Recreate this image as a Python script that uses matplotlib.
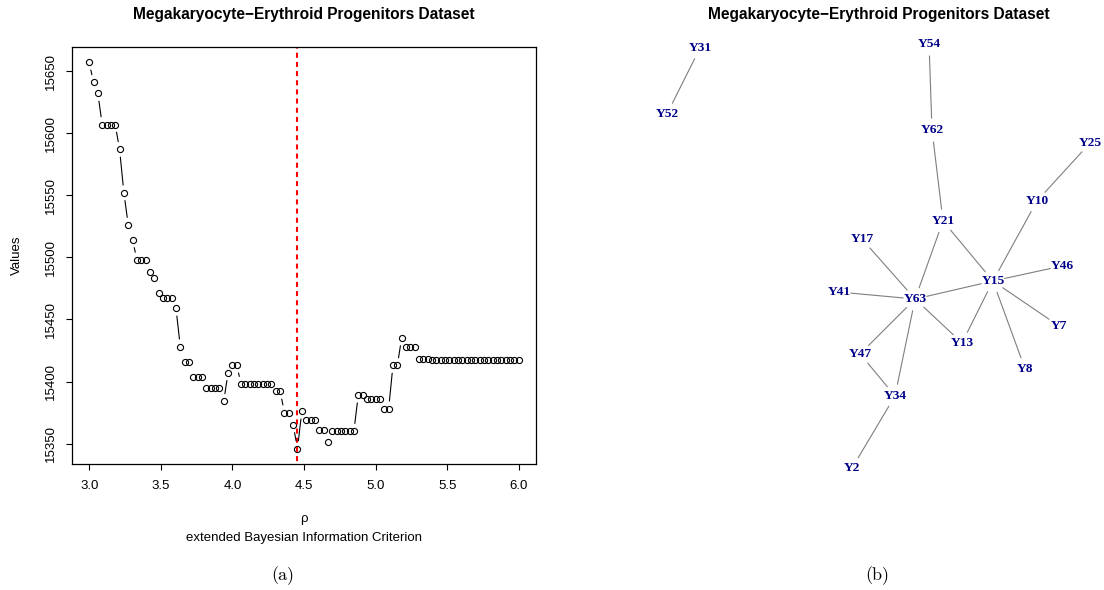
import numpy as np
import matplotlib
matplotlib.use("Agg")
import matplotlib.pyplot as plt

# ---------------- data: panel (a) ----------------
rho = np.linspace(3.0, 6.0, 100)
ebic = [15657, 15641, 15632, 15607, 15607, 15607, 15607, 15587, 15552, 15526,
        15514, 15498, 15498, 15498, 15488, 15483, 15471, 15467, 15467, 15467,
        15459, 15428, 15416, 15416, 15404, 15404, 15404, 15395, 15395, 15395,
        15395, 15384, 15407, 15413, 15413, 15398, 15398, 15398, 15398, 15398,
        15398, 15398, 15398, 15392, 15392, 15375, 15375, 15365, 15346, 15376,
        15369, 15369, 15369, 15361, 15361, 15351, 15360, 15360, 15360, 15360,
        15360, 15360, 15389, 15389, 15386, 15386, 15386, 15386, 15378, 15378,
        15413, 15413, 15435, 15428, 15428, 15428, 15418, 15418, 15418, 15417,
        15417, 15417, 15417, 15417, 15417, 15417, 15417, 15417, 15417, 15417,
        15417, 15417, 15417, 15417, 15417, 15417, 15417, 15417, 15417, 15417]
x_ticks = [3.0, 3.5, 4.0, 4.5, 5.0, 5.5, 6.0]
x_tick_labels = ["3.0", "3.5", "4.0", "4.5", "5.0", "5.5", "6.0"]
y_ticks = [15350, 15400, 15450, 15500, 15550, 15600, 15650]
y_tick_labels = ["15350", "15400", "15450", "15500", "15550", "15600", "15650"]

# ---------------- data: panel (b) ----------------
nodes = ["Y31", "Y52", "Y54", "Y62", "Y25", "Y10", "Y21", "Y17", "Y46",
         "Y15", "Y41", "Y63", "Y7", "Y13", "Y8", "Y47", "Y34", "Y2"]
node_x = [-0.844, -1.000, 0.239, 0.253, 1.000, 0.749, 0.305, -0.078, 0.868,
          0.541, -0.187, 0.173, 0.853, 0.395, 0.693, -0.087, 0.078, -0.125]
node_y = [0.981, 0.670, 1.000, 0.594, 0.533, 0.259, 0.165, 0.080, -0.047,
          -0.118, -0.170, -0.203, -0.330, -0.410, -0.533, -0.462, -0.660, -1.000]
edges = [("Y31", "Y52"), ("Y54", "Y62"), ("Y62", "Y21"), ("Y21", "Y63"),
         ("Y21", "Y15"), ("Y25", "Y10"), ("Y10", "Y15"), ("Y17", "Y63"),
         ("Y41", "Y63"), ("Y63", "Y15"), ("Y46", "Y15"), ("Y15", "Y13"),
         ("Y15", "Y7"), ("Y15", "Y8"), ("Y63", "Y13"), ("Y63", "Y47"),
         ("Y63", "Y34"), ("Y47", "Y34"), ("Y34", "Y2")]

title = "Megakaryocyte\u2212Erythroid Progenitors Dataset"

W, H = 1104, 590
fig = plt.figure(figsize=(W / 100, H / 100), dpi=100)
sans = "Liberation Sans"
fs = 9.5
fs_title = 11.2

def fx(px):
    return px / W

def fy(py):
    return 1 - py / H

# ---------------- panel (a) ----------------
L, R, T, B = 72, 536, 47, 464
ax = fig.add_axes([fx(L), fy(B), fx(R) - fx(L), fy(T) - fy(B)])
xr = rho.max() - rho.min()
ymin, ymax = min(ebic), max(ebic)
yr = ymax - ymin
ax.set_xlim(rho.min() - 0.04 * xr, rho.max() + 0.04 * xr)
ax.set_ylim(ymin - 0.04 * yr, ymax + 0.04 * yr)

ax.plot(rho, ebic, linestyle="none", marker="o", markersize=4.4,
        markerfacecolor="none", markeredgecolor="black", markeredgewidth=0.8)

# R type="b": segments with gaps around the points
gap_pt = 5.6
gap_px = gap_pt * 100 / 72
pts = ax.transData.transform(np.column_stack([rho, ebic]))
for i in range(len(rho) - 1):
    d = np.hypot(*(pts[i + 1] - pts[i]))
    if d > 2 * gap_px + 1:
        ax.annotate("", xy=(rho[i + 1], ebic[i + 1]), xytext=(rho[i], ebic[i]),
                    arrowprops=dict(arrowstyle="-", color="black", lw=0.8,
                                    shrinkA=gap_pt, shrinkB=gap_pt))

best = rho[int(np.argmin(ebic))]
ax.axvline(best, color="red", lw=1.5, linestyle=(3, (2.4, 2.0)))

ax.set_xticks(x_ticks)
ax.set_xticklabels(x_tick_labels, fontfamily=sans, fontsize=fs)
ax.set_yticks(y_ticks)
ax.set_yticklabels(y_tick_labels, fontfamily=sans, fontsize=fs, rotation=90,
                   va="center")
ax.tick_params(axis="x", length=4.3, width=0.8, pad=7.5)
ax.tick_params(axis="y", length=4.3, width=0.8, pad=6.5)
for s in ax.spines.values():
    s.set_linewidth(0.9)

cx = (L + R) / 2
fig.text(fx(cx), fy(15), title, ha="center", va="center", fontfamily=sans,
         fontweight="bold", fontsize=fs_title)
fig.text(fx(17), fy((T + B) / 2), "Values", ha="center", va="center",
         rotation=90, fontfamily=sans, fontsize=fs)
fig.text(fx(cx), fy(519), "\u03c1", ha="center", va="center",
         fontfamily=sans, fontsize=fs)
fig.text(fx(cx), fy(537.7), "extended Bayesian Information Criterion",
         ha="center", va="center", fontfamily=sans, fontsize=fs)
fig.text(fx(283), fy(576), "(a)", ha="center", va="center",
         fontfamily="cmr10", fontsize=13)

# ---------------- panel (b) ----------------
gx0, gx1, gy0, gy1 = 667, 1090, 44, 468
ax2 = fig.add_axes([fx(gx0), fy(gy1), fx(gx1) - fx(gx0), fy(gy0) - fy(gy1)])
ax2.set_xlim(-1, 1)
ax2.set_ylim(-1, 1)
ax2.axis("off")
pos = {n: (x, y) for n, x, y in zip(nodes, node_x, node_y)}
for a, b in edges:
    ax2.annotate("", xy=pos[b], xytext=pos[a],
                 arrowprops=dict(arrowstyle="-", color="#7f7f7f", lw=0.8,
                                 shrinkA=8.6, shrinkB=8.6),
                 annotation_clip=False)
for n in nodes:
    ax2.text(pos[n][0], pos[n][1], n, ha="center", va="center",
             fontfamily="Liberation Serif", fontweight="bold", fontsize=9.6,
             color="#00008B", clip_on=False)

fig.text(fx(878.5), fy(15), title, ha="center", va="center", fontfamily=sans,
         fontweight="bold", fontsize=fs_title)
fig.text(fx(877), fy(576), "(b)", ha="center", va="center",
         fontfamily="cmr10", fontsize=13)

fig.savefig("out.png", dpi=100)
